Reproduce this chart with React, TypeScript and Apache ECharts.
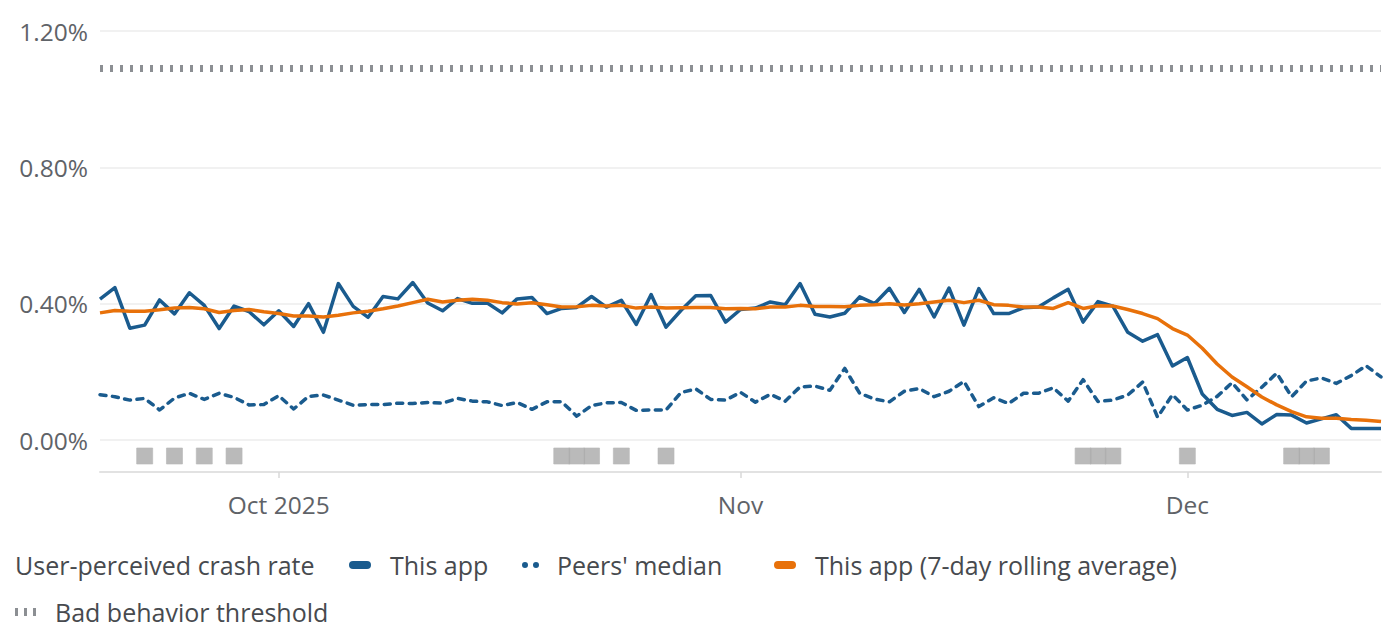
import React, { useEffect, useRef } from 'react';
import * as echarts from 'echarts';

// ---------- data ----------
const START_DATE = '2025-09-19';
const DAY_COUNT = 87;
const dates: string[] = [];
{
  const d0 = new Date(START_DATE + 'T00:00:00Z');
  for (let i = 0; i < DAY_COUNT; i++) {
    const d = new Date(d0.getTime() + i * 86400000);
    dates.push(d.toISOString().slice(0, 10));
  }
}

const tickLabels: Record<string, string> = {
  '2025-10-01': 'Oct 2025',
  '2025-11-01': 'Nov',
  '2025-12-01': 'Dec',
};

const yTicks = [0, 0.4, 0.8, 1.2];

const thisApp = [
  0.413, 0.447, 0.328, 0.337, 0.411, 0.370, 0.432, 0.395, 0.327, 0.393,
  0.377, 0.338, 0.379, 0.333, 0.400, 0.316, 0.459, 0.392, 0.360, 0.421,
  0.414, 0.462, 0.402, 0.379, 0.415, 0.401, 0.402, 0.373, 0.414, 0.418,
  0.371, 0.386, 0.389, 0.421, 0.390, 0.410, 0.339, 0.427, 0.331, 0.380,
  0.423, 0.424, 0.346, 0.383, 0.387, 0.405, 0.397, 0.459, 0.369, 0.361,
  0.372, 0.420, 0.400, 0.445, 0.374, 0.442, 0.361, 0.446, 0.337, 0.444,
  0.371, 0.371, 0.388, 0.390, 0.417, 0.442, 0.346, 0.406, 0.393, 0.316,
  0.290, 0.309, 0.217, 0.242, 0.135, 0.090, 0.072, 0.081, 0.047, 0.075,
  0.073, 0.050, 0.062, 0.074, 0.034, 0.034, 0.034,
];

const peersMedian = [
  0.133, 0.127, 0.117, 0.122, 0.088, 0.123, 0.137, 0.119, 0.137, 0.125,
  0.103, 0.104, 0.130, 0.091, 0.128, 0.132, 0.117, 0.102, 0.104, 0.104,
  0.108, 0.107, 0.110, 0.108, 0.122, 0.114, 0.112, 0.101, 0.110, 0.090,
  0.112, 0.112, 0.070, 0.101, 0.109, 0.110, 0.087, 0.088, 0.088, 0.139,
  0.150, 0.119, 0.117, 0.140, 0.111, 0.134, 0.114, 0.156, 0.158, 0.146,
  0.210, 0.137, 0.120, 0.112, 0.143, 0.151, 0.127, 0.143, 0.172, 0.098,
  0.124, 0.107, 0.137, 0.137, 0.153, 0.114, 0.177, 0.113, 0.117, 0.132,
  0.170, 0.067, 0.133, 0.088, 0.102, 0.128, 0.168, 0.118, 0.155, 0.196,
  0.127, 0.173, 0.182, 0.166, 0.189, 0.218, 0.185,
];

const rollingAvg = [
  0.373, 0.380, 0.378, 0.378, 0.382, 0.387, 0.389, 0.385, 0.374, 0.380,
  0.383, 0.376, 0.371, 0.364, 0.364, 0.361, 0.366, 0.373, 0.378, 0.385,
  0.393, 0.403, 0.413, 0.405, 0.410, 0.413, 0.410, 0.403, 0.399, 0.403,
  0.397, 0.390, 0.391, 0.395, 0.393, 0.395, 0.387, 0.390, 0.387, 0.388,
  0.389, 0.389, 0.385, 0.386, 0.385, 0.390, 0.390, 0.395, 0.392, 0.392,
  0.391, 0.395, 0.397, 0.400, 0.396, 0.400, 0.405, 0.410, 0.403, 0.410,
  0.397, 0.395, 0.390, 0.390, 0.386, 0.403, 0.386, 0.394, 0.393, 0.383,
  0.371, 0.356, 0.327, 0.308, 0.269, 0.223, 0.185, 0.156, 0.126, 0.103,
  0.083, 0.068, 0.064, 0.064, 0.060, 0.058, 0.054,
];

const badBehaviorThreshold = 1.09;

const markerDates = [
  '2025-09-22', '2025-09-24', '2025-09-26', '2025-09-28',
  '2025-10-20', '2025-10-21', '2025-10-22', '2025-10-24', '2025-10-27',
  '2025-11-24', '2025-11-25', '2025-11-26',
  '2025-12-01',
  '2025-12-08', '2025-12-09', '2025-12-10',
];

const SERIES_NAMES = {
  app: 'This app',
  peers: "Peers' median",
  avg: 'This app (7-day rolling average)',
  threshold: 'Bad behavior threshold',
};
const LEGEND_TITLE = 'User-perceived crash rate';

// ---------- styles ----------
const BLUE = '#1a5b8e';
const ORANGE = '#e8710a';
const GRAY_TH = '#8c8f93';
const MARKER_GRAY = '#a9a9a9';
const AXIS_TEXT = '#5f6368';
const LEGEND_TEXT = '#474a4e';
const FONT = '"Open Sans", Roboto, sans-serif';
const FS = 24.5;
const LEGEND_FS = 25;

const BAR_ICON = 'path://M4,0L18,0A4,4,0,0,1,18,8L4,8A4,4,0,0,1,4,0Z';
const DOTS_ICON = 'path://M3,0A3,3,0,1,1,3,6A3,3,0,1,1,3,0ZM14,0A3,3,0,1,1,14,6A3,3,0,1,1,14,0Z';
const TICKS_ICON = 'path://M0,0L3,0L3,8L0,8ZM9,0L12,0L12,8L9,8ZM18,0L21,0L21,8L18,8Z';

function legendFor(name: string, left: number, top: number, icon: string, w: number, h: number, pad: number) {
  return {
    data: [name],
    left,
    top,
    padding: 0,
    orient: 'horizontal',
    icon,
    itemWidth: w,
    itemHeight: h,
    selectedMode: false,
    itemStyle: { borderWidth: 0 },
    textStyle: {
      fontFamily: FONT,
      fontSize: LEGEND_FS,
      color: LEGEND_TEXT,
      lineHeight: 30,
      padding: [0, 0, 0, pad],
    },
  };
}

export default function App() {
  const ref = useRef<HTMLDivElement>(null);

  useEffect(() => {
    if (!ref.current) return;
    const chart = echarts.init(ref.current, null, { renderer: 'svg' });

    const option: any = {
      animation: false,
      backgroundColor: '#ffffff',
      textStyle: { fontFamily: FONT },
      grid: [
        { left: 100, right: 19, top: 31, height: 409 },
        { left: 100, right: 19, top: 440, height: 32 },
      ],
      xAxis: [
        {
          type: 'category',
          gridIndex: 0,
          data: dates,
          boundaryGap: false,
          show: false,
        },
        {
          type: 'category',
          gridIndex: 1,
          data: dates,
          boundaryGap: false,
          axisLine: { show: true, lineStyle: { color: '#e2e2e2', width: 2 } },
          axisTick: {
            show: true,
            length: 6,
            interval: (_i: number, v: string) => v in tickLabels,
            lineStyle: { color: '#d9d9d9', width: 1.5 },
          },
          axisLabel: {
            interval: (_i: number, v: string) => v in tickLabels,
            formatter: (v: string) => tickLabels[v] ?? '',
            color: AXIS_TEXT,
            fontSize: FS,
            fontFamily: FONT,
            margin: 20,
          },
          splitLine: { show: false },
        },
      ],
      yAxis: [
        {
          type: 'value',
          gridIndex: 0,
          min: yTicks[0],
          max: yTicks[yTicks.length - 1],
          interval: yTicks[1] - yTicks[0],
          axisLine: { show: false },
          axisTick: { show: false },
          axisLabel: {
            formatter: (v: number) => v.toFixed(2) + '%',
            color: AXIS_TEXT,
            fontSize: FS,
            fontFamily: FONT,
            margin: 12,
          },
          splitLine: { show: true, lineStyle: { color: '#ececec', width: 1.5 } },
        },
        {
          type: 'value',
          gridIndex: 1,
          min: 0,
          max: 1,
          show: false,
        },
      ],
      legend: [
        legendFor(SERIES_NAMES.app, 349, 550, BAR_ICON, 22, 8, 14),
        legendFor(SERIES_NAMES.peers, 522, 550, DOTS_ICON, 17, 6, 13),
        legendFor(SERIES_NAMES.avg, 774, 550, BAR_ICON, 22, 8, 14),
        legendFor(SERIES_NAMES.threshold, 15, 597, TICKS_ICON, 21, 8, 14),
      ],
      graphic: [
        {
          type: 'text',
          x: 15,
          y: 565,
          style: {
            text: LEGEND_TITLE,
            fontFamily: FONT,
            fontSize: LEGEND_FS,
            fill: LEGEND_TEXT,
            verticalAlign: 'middle',
          },
        },
      ],
      series: [
        {
          name: SERIES_NAMES.threshold,
          type: 'line',
          xAxisIndex: 0,
          yAxisIndex: 0,
          data: [],
          color: GRAY_TH,
          itemStyle: { color: GRAY_TH },
          markLine: {
            silent: true,
            symbol: 'none',
            label: { show: false },
            lineStyle: { color: GRAY_TH, width: 7, type: [3, 7], cap: 'butt' },
            data: [{ yAxis: badBehaviorThreshold }],
          },
        },
        {
          name: SERIES_NAMES.peers,
          type: 'line',
          xAxisIndex: 0,
          yAxisIndex: 0,
          data: peersMedian,
          symbol: 'none',
          color: BLUE,
          itemStyle: { color: BLUE },
          lineStyle: { color: BLUE, width: 3.5, type: [6, 6.5], cap: 'round', join: 'round' },
          z: 2,
        },
        {
          name: SERIES_NAMES.app,
          type: 'line',
          xAxisIndex: 0,
          yAxisIndex: 0,
          data: thisApp,
          symbol: 'none',
          color: BLUE,
          itemStyle: { color: BLUE },
          lineStyle: { color: BLUE, width: 3.5, join: 'round' },
          z: 3,
        },
        {
          name: SERIES_NAMES.avg,
          type: 'line',
          xAxisIndex: 0,
          yAxisIndex: 0,
          data: rollingAvg,
          symbol: 'none',
          color: ORANGE,
          itemStyle: { color: ORANGE },
          lineStyle: { color: ORANGE, width: 3.5, join: 'round' },
          z: 4,
        },
        {
          name: 'markers',
          type: 'scatter',
          xAxisIndex: 1,
          yAxisIndex: 1,
          data: markerDates.map((d) => [d, 0.5]),
          symbol: 'rect',
          symbolSize: 16,
          silent: true,
          itemStyle: { color: MARKER_GRAY, borderColor: '#b8b8b8', borderWidth: 0.8 },
        },
      ],
    };

    chart.setOption(option);
    return () => chart.dispose();
  }, []);

  return (
    <div
      ref={ref}
      style={{ position: 'fixed', left: 0, top: 0, width: 1400, height: 641, background: '#fff' }}
    />
  );
}
